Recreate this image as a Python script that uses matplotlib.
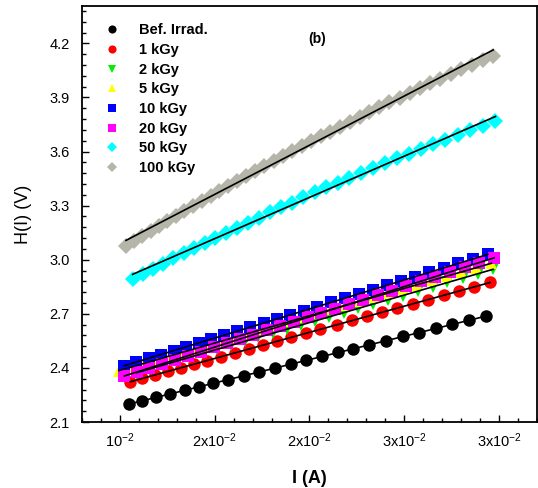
import numpy as np
import matplotlib
matplotlib.use("Agg")
import matplotlib.pyplot as plt
from matplotlib.ticker import MultipleLocator, FixedLocator

plt.rcParams["font.family"] = ["Liberation Sans", "DejaVu Sans"]
plt.rcParams["mathtext.fontset"] = "custom"
plt.rcParams["mathtext.rm"] = "Liberation Sans"
plt.rcParams["mathtext.it"] = "Liberation Sans:italic"
plt.rcParams["mathtext.bf"] = "Liberation Sans:bold"

# ---- data ----
labels = ["Bef. Irrad.", "1 kGy", "2 kGy", "5 kGy",
          "10 kGy", "20 kGy", "50 kGy", "100 kGy"]

x_bef = [0.01049, 0.01119, 0.01193, 0.01265, 0.01341, 0.01416, 0.01493, 0.01572,
         0.01653, 0.01733, 0.01816, 0.01900, 0.01984, 0.02068, 0.02153, 0.02232,
         0.02316, 0.02405, 0.02495, 0.02579, 0.02668, 0.02753, 0.02842, 0.02932]
y_bef = [2.200, 2.218, 2.237, 2.256, 2.276, 2.295, 2.315, 2.335,
         2.356, 2.377, 2.399, 2.420, 2.442, 2.464, 2.486, 2.506,
         2.528, 2.551, 2.575, 2.596, 2.619, 2.641, 2.664, 2.688]

x_1k = [0.01054, 0.01119, 0.01184, 0.01254, 0.01321, 0.01391, 0.01462, 0.01532,
        0.01605, 0.01681, 0.01754, 0.01830, 0.01905, 0.01979, 0.02058, 0.02146,
        0.02225, 0.02304, 0.02383, 0.02462, 0.02544, 0.02625, 0.02707, 0.02789,
        0.02870, 0.02953]
y_1k = [2.323, 2.342, 2.361, 2.381, 2.400, 2.421, 2.441, 2.462,
        2.483, 2.505, 2.526, 2.548, 2.570, 2.591, 2.614, 2.640,
        2.663, 2.686, 2.709, 2.731, 2.755, 2.779, 2.802, 2.826,
        2.850, 2.874]

x_2k = [0.01090, 0.01159, 0.01229, 0.01299, 0.01370, 0.01441, 0.01513, 0.01585,
        0.01658, 0.01731, 0.01805, 0.01879, 0.01954, 0.02029, 0.02105, 0.02181,
        0.02258, 0.02335, 0.02413, 0.02491, 0.02570, 0.02649, 0.02728, 0.02808,
        0.02888, 0.02968]
y_2k = [2.374, 2.395, 2.416, 2.438, 2.459, 2.481, 2.503, 2.525,
        2.547, 2.570, 2.592, 2.615, 2.637, 2.660, 2.683, 2.707,
        2.730, 2.754, 2.777, 2.801, 2.825, 2.850, 2.874, 2.898,
        2.922, 2.947]

x_5k = [0.00995, 0.01061, 0.01128, 0.01195, 0.01263, 0.01331, 0.01400, 0.01469,
        0.01539, 0.01609, 0.01680, 0.01751, 0.01823, 0.01895, 0.01968, 0.02041,
        0.02115, 0.02189, 0.02264, 0.02339, 0.02415, 0.02491, 0.02568, 0.02645,
        0.02723, 0.02801, 0.02880, 0.02959]
y_5k = [2.385, 2.405, 2.425, 2.446, 2.466, 2.487, 2.508, 2.529,
        2.550, 2.571, 2.593, 2.614, 2.636, 2.658, 2.680, 2.702,
        2.724, 2.747, 2.769, 2.792, 2.815, 2.838, 2.862, 2.885,
        2.909, 2.932, 2.956, 2.980]

x_10k = [0.01023, 0.01087, 0.01152, 0.01217, 0.01283, 0.01349, 0.01416, 0.01483,
         0.01551, 0.01619, 0.01688, 0.01758, 0.01828, 0.01898, 0.01969, 0.02041,
         0.02113, 0.02186, 0.02259, 0.02333, 0.02407, 0.02482, 0.02557, 0.02633,
         0.02709, 0.02786, 0.02863, 0.02941]
y_10k = [2.412, 2.433, 2.454, 2.474, 2.496, 2.517, 2.539, 2.560,
         2.582, 2.604, 2.626, 2.649, 2.671, 2.694, 2.717, 2.740,
         2.763, 2.786, 2.810, 2.834, 2.858, 2.882, 2.906, 2.930,
         2.955, 2.980, 3.004, 3.030]

x_20k = [0.01023, 0.01089, 0.01156, 0.01223, 0.01290, 0.01358, 0.01426, 0.01495,
         0.01564, 0.01634, 0.01704, 0.01775, 0.01846, 0.01918, 0.01990, 0.02063,
         0.02136, 0.02210, 0.02284, 0.02359, 0.02434, 0.02510, 0.02586, 0.02663,
         0.02740, 0.02818, 0.02896, 0.02974]
y_20k = [2.355, 2.377, 2.400, 2.422, 2.445, 2.468, 2.490, 2.514,
         2.537, 2.560, 2.584, 2.608, 2.632, 2.656, 2.680, 2.704,
         2.729, 2.754, 2.779, 2.804, 2.829, 2.855, 2.880, 2.906,
         2.932, 2.958, 2.984, 3.011]

x_50k = [0.01067, 0.01120, 0.01173, 0.01227, 0.01282, 0.01336, 0.01392, 0.01447,
         0.01503, 0.01560, 0.01617, 0.01674, 0.01732, 0.01790, 0.01849, 0.01908,
         0.01968, 0.02028, 0.02088, 0.02149, 0.02211, 0.02272, 0.02335, 0.02397,
         0.02460, 0.02524, 0.02588, 0.02652, 0.02717, 0.02782, 0.02848, 0.02914,
         0.02981]
y_50k = [2.893, 2.922, 2.950, 2.979, 3.008, 3.036, 3.065, 3.093,
         3.121, 3.150, 3.178, 3.206, 3.234, 3.262, 3.291, 3.317,
         3.346, 3.373, 3.401, 3.427, 3.455, 3.481, 3.509, 3.535,
         3.562, 3.588, 3.614, 3.640, 3.666, 3.691, 3.717, 3.741,
         3.767]

x_100k = [0.01032, 0.01075, 0.01118, 0.01162, 0.01206, 0.01250, 0.01295, 0.01340,
          0.01386, 0.01432, 0.01478, 0.01524, 0.01571, 0.01618, 0.01666, 0.01714,
          0.01762, 0.01811, 0.01860, 0.01909, 0.01959, 0.02009, 0.02059, 0.02110,
          0.02161, 0.02212, 0.02264, 0.02316, 0.02369, 0.02422, 0.02475, 0.02528,
          0.02582, 0.02636, 0.02691, 0.02746, 0.02801, 0.02857, 0.02913, 0.02969]
y_100k = [3.078, 3.105, 3.133, 3.160, 3.188, 3.215, 3.243, 3.271,
          3.299, 3.327, 3.354, 3.382, 3.409, 3.437, 3.464, 3.492,
          3.519, 3.547, 3.574, 3.602, 3.629, 3.656, 3.684, 3.711,
          3.738, 3.765, 3.792, 3.819, 3.845, 3.872, 3.899, 3.925,
          3.951, 3.978, 4.003, 4.029, 4.055, 4.081, 4.106, 4.131]

x_ticks = [0.010, 0.015, 0.020, 0.025, 0.030]
x_ticklabels = [r"10$^{\mathregular{-2}}$", r"2x10$^{\mathregular{-2}}$",
                r"2x10$^{\mathregular{-2}}$", r"3x10$^{\mathregular{-2}}$",
                r"3x10$^{\mathregular{-2}}$"]

# ---- styles ----
series = [
    (x_bef, y_bef, "o", "#000000", 9.0),
    (x_1k, y_1k, "o", "#FF0000", 9.0),
    (x_2k, y_2k, "v", "#00EE00", 9.0),
    (x_5k, y_5k, "^", "#FFFF00", 9.0),
    (x_10k, y_10k, "s", "#0000FF", 8.5),
    (x_20k, y_20k, "s", "#FF00FF", 8.5),
    (x_50k, y_50k, "D", "#00FFFF", 8.0),
    (x_100k, y_100k, "D", "#B5B5AA", 8.0),
]

fig = plt.figure(figsize=(5.38, 4.88), dpi=100)
ax = fig.add_axes([0.1524, 0.1352, 0.8457, 0.8525])

for (xs, ys, mk, col, ms), lab in zip(series, labels):
    ax.plot(xs, ys, linestyle="none", marker=mk, color=col, markersize=ms,
            markeredgewidth=0, label=lab)

# linear fits
for xs, ys, mk, col, ms in series:
    xs = np.asarray(xs)
    p = np.polyfit(xs, ys, 1)
    xf = np.array([xs.min(), xs.max()])
    ax.plot(xf, np.polyval(p, xf), color="k", linewidth=1.2, zorder=5)

ax.set_xlim(0.0080, 0.0320)
ax.set_ylim(2.1, 4.407)
ax.xaxis.set_major_locator(FixedLocator(x_ticks))
ax.set_xticklabels(x_ticklabels)
ax.xaxis.set_minor_locator(MultipleLocator(0.001))
ax.yaxis.set_major_locator(MultipleLocator(0.3))
ax.yaxis.set_minor_locator(MultipleLocator(0.06))
ax.tick_params(which="both", direction="in", top=False, right=False,
               labelsize=10.5)
ax.tick_params(which="major", length=5, width=1.0)
ax.tick_params(which="minor", length=3, width=1.0)
ax.tick_params(axis="x", pad=7)
ax.tick_params(axis="y", pad=9)
for sp in ax.spines.values():
    sp.set_linewidth(1.3)

ax.set_xlabel("I (A)", fontsize=13, fontweight="bold", labelpad=14)
ax.set_ylabel("H(I) (V)", fontsize=13, labelpad=12)

ax.text(0.517, 0.92, "(b)", transform=ax.transAxes, fontsize=10,
        fontweight="bold", ha="center", va="center")

leg = ax.legend(loc="upper left", bbox_to_anchor=(0.022, 0.99), frameon=False,
                markerscale=0.65, handlelength=1.0, handletextpad=1.35,
                labelspacing=0.39, prop={"weight": "bold", "size": 10.5})

fig.savefig("out.png", dpi=100)
